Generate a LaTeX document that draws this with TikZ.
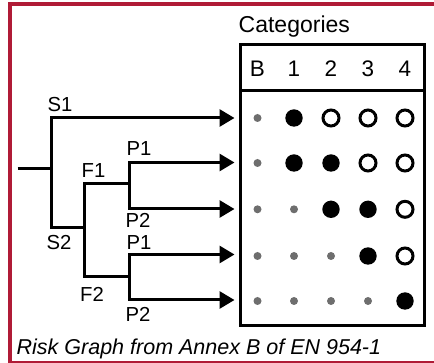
\documentclass[tikz,border=0pt]{standalone}
\usepackage{fontspec}
\setmainfont{Liberation Sans}
\usetikzlibrary{arrows.meta}
\definecolor{frame}{RGB}{176,27,54}
\definecolor{dotgray}{RGB}{110,110,110}
\tikzset{
  >={Triangle[length=15pt,width=17pt]},
  tree/.style={line width=3pt, line join=miter},
  arr/.style={tree, ->},
  arr2/.style={tree, <->},
  lbl/.style={anchor=base west, inner sep=0pt, font=\fontsize{20.3}{22}\selectfont},
  hdr/.style={anchor=base, inner sep=0pt, font=\fontsize{22.5}{24}\selectfont},
  sdot/.style={circle, fill=dotgray, minimum size=8pt, inner sep=0pt},
  bdot/.style={circle, fill=black, minimum size=17.4pt, inner sep=0pt},
  odot/.style={circle, draw=black, line width=3pt, minimum size=16pt, inner sep=0pt},
}
\begin{document}
\begin{tikzpicture}[x=1pt,y=-1pt]
\useasboundingbox (0,0) rectangle (434,363);
% frame
\draw[frame, line width=4pt] (10,4) rectangle (438,363);
% table
\coordinate (tl) at (240,44.7);
\coordinate (br) at (424.5,325.3);
\draw[line width=3pt] (tl) rectangle (br);
\coordinate (hl) at (240,90.5);
\coordinate (hr) at (424.5,90.5);
\draw[line width=3pt] (hl) -- (hr);
\node[anchor=base west, inner sep=0pt, font=\fontsize{23}{25}\selectfont] (cat) at (238.5,32.7) {Categories};
\node[hdr] (hB) at (257.5,76.7) {B};
\node[hdr] (h1) at (294,76.7) {1};
\node[hdr] (h2) at (331,76.7) {2};
\node[hdr] (h3) at (368,76.7) {3};
\node[hdr] (h4) at (405,76.7) {4};
% dots
\node[sdot] (d11) at (257.5,118) {};
\node[bdot] (d12) at (294,118) {};
\node[odot] (d13) at (331,118) {};
\node[odot] (d14) at (368,118) {};
\node[odot] (d15) at (405,118) {};
\node[sdot] (d21) at (257.5,163) {};
\node[bdot] (d22) at (294,163) {};
\node[bdot] (d23) at (331,163) {};
\node[odot] (d24) at (368,163) {};
\node[odot] (d25) at (405,163) {};
\node[sdot] (d31) at (257.5,209.3) {};
\node[sdot] (d32) at (294,209.3) {};
\node[bdot] (d33) at (331,209.3) {};
\node[bdot] (d34) at (368,209.3) {};
\node[odot] (d35) at (405,209.3) {};
\node[sdot] (d41) at (257.5,256) {};
\node[sdot] (d42) at (294,256) {};
\node[sdot] (d43) at (331,256) {};
\node[bdot] (d44) at (368,256) {};
\node[odot] (d45) at (405,256) {};
\node[sdot] (d51) at (257.5,301) {};
\node[sdot] (d52) at (294,301) {};
\node[sdot] (d53) at (331,301) {};
\node[sdot] (d54) at (368,301) {};
\node[bdot] (d55) at (405,301) {};
% tree coordinates
\coordinate (root) at (17.5,168.5);
\coordinate (sj) at (51.7,168.5);
\coordinate (s1c) at (51.7,118);
\coordinate (s1t) at (234.5,118);
\coordinate (s2c) at (51.7,227.5);
\coordinate (s2e) at (84.5,227.5);
\coordinate (f1c) at (84.5,184);
\coordinate (f1e) at (129,184);
\coordinate (f2c) at (84.5,277);
\coordinate (f2e) at (129,277);
\coordinate (p1c) at (129,162.5);
\coordinate (p1t) at (234.5,162.5);
\coordinate (p2c) at (129,209);
\coordinate (p2t) at (234.5,209);
\coordinate (q1c) at (129,254.5);
\coordinate (q1t) at (234.5,254.5);
\coordinate (q2c) at (129,300);
\coordinate (q2t) at (234.5,300);
\draw[tree] (root) -- (sj);
\draw[arr] (s2e) -- (s2c) -- (s1c) -- (s1t);
\draw[tree] (f2e) -- (f2c) -- (f1c) -- (f1e);
\draw[arr2] (p2t) -- (p2c) -- (p1c) -- (p1t);
\draw[arr2] (q2t) -- (q2c) -- (q1c) -- (q1t);
% labels
\node[lbl] (ls1) at (47.5,111.7) {S1};
\node[lbl] (lp1a) at (126.5,156) {P1};
\node[lbl] (lf1) at (81.5,177.3) {F1};
\node[lbl] (lp2a) at (125.5,227.3) {P2};
\node[lbl] (ls2) at (46.5,249.3) {S2};
\node[lbl] (lp1b) at (126.5,250) {P1};
\node[lbl] (lf2) at (80,301.7) {F2};
\node[lbl] (lp2b) at (125.5,321.7) {P2};
% caption
\node[anchor=base west, inner sep=0pt, font=\fontsize{21.5}{23}\selectfont\itshape] (cap) at (16.5,355) {Risk Graph from Annex B of EN 954-1};
\end{tikzpicture}
\end{document}
